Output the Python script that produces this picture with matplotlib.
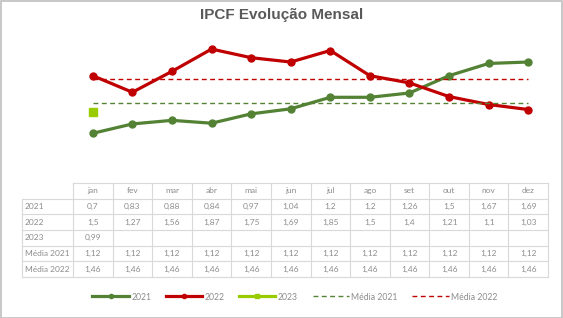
import matplotlib
matplotlib.use('Agg')
import matplotlib.pyplot as plt
from matplotlib.patches import Rectangle

months = ['jan', 'fev', 'mar', 'abr', 'mai', 'jun', 'jul', 'ago', 'set', 'out', 'nov', 'dez']
s2021 = [0.7, 0.83, 0.88, 0.84, 0.97, 1.04, 1.2, 1.2, 1.26, 1.5, 1.67, 1.69]
s2022 = [1.5, 1.27, 1.56, 1.87, 1.75, 1.69, 1.85, 1.5, 1.4, 1.21, 1.1, 1.03]
s2023 = [0.99]
media2021 = [1.12, 1.12, 1.12, 1.12, 1.12, 1.12, 1.12, 1.12, 1.12, 1.12, 1.12, 1.12]
media2022 = [1.46, 1.46, 1.46, 1.46, 1.46, 1.46, 1.46, 1.46, 1.46, 1.46, 1.46, 1.46]
row_labels = ['2021', '2022', '2023', 'Média 2021', 'Média 2022']
title = 'IPCF Evolução Mensal'

C21 = '#548235'
C22 = '#C00000'
C23 = '#99CC00'
GRAY = '#8c8c8c'
GRID = '#d9d9d9'

W, H = 563, 318
fig = plt.figure(figsize=(W / 100, H / 100), dpi=100)
fig.patch.set_facecolor('white')


def fx(px):
    return px / W


def fy(py):
    return 1 - py / H


# main plot axes
left_px, right_px = 73, 548
ax = fig.add_axes([fx(left_px), fy(154.9), fx(right_px) - fx(left_px), fy(32.5) - fy(154.9)])
ax.set_xlim(-0.5, len(months) - 0.5)
ax.set_ylim(0.4, 2.1)
ax.axis('off')
x = list(range(len(months)))
l1, = ax.plot(x, s2021, color=C21, lw=2.3, marker='o', ms=5, label='2021', zorder=3)
l2, = ax.plot(x, s2022, color=C22, lw=2.3, marker='o', ms=5, label='2022', zorder=3)
l3, = ax.plot(list(range(len(s2023))), s2023, color=C23, lw=2.3, marker='s', ms=5.5, label='2023', zorder=3)
l4, = ax.plot(x, media2021, color=C21, lw=1, ls=(0, (3.5, 2.5)), label='Média 2021', zorder=4)
l5, = ax.plot(x, media2022, color=C22, lw=1, ls=(0, (3.5, 2.5)), label='Média 2022', zorder=4)

# title
fig.text(fx(281.5), fy(15), title, ha='center', va='center', fontsize=11, fontweight='bold',
         color='#595959', family='Liberation Sans')

# data table overlay
tax = fig.add_axes([0, 0, 1, 1], facecolor='none')
tax.set_xlim(0, W)
tax.set_ylim(H, 0)
tax.axis('off')
top, row_h = 183, 15.67
label_left = 22
colw = (right_px - left_px) / len(months)
nrows = len(row_labels) + 1
bottom = top + nrows * row_h
lw = 0.8
# horizontal lines
tax.plot([left_px, right_px], [top, top], color=GRID, lw=lw)
for k in range(1, nrows + 1):
    y = top + k * row_h
    tax.plot([label_left, right_px], [y, y], color=GRID, lw=lw)
# vertical lines
tax.plot([label_left, label_left], [top + row_h, bottom], color=GRID, lw=lw)
for j in range(len(months) + 1):
    xx = left_px + j * colw
    tax.plot([xx, xx], [top, bottom], color=GRID, lw=lw)

tfont = dict(fontsize=6.0, color=GRAY, family='Lato', va='center')
for j, m in enumerate(months):
    tax.text(left_px + (j + 0.5) * colw, top + 0.5 * row_h, m, ha='center', **tfont)


def fmt(v):
    return ('%g' % v).replace('.', ',')


rows = [s2021, s2022, s2023, media2021, media2022]
for i, (lab, vals) in enumerate(zip(row_labels, rows)):
    yc = top + (i + 1.5) * row_h
    tax.text(label_left + 3, yc, lab, ha='left', **tfont)
    for j, v in enumerate(vals):
        tax.text(left_px + (j + 0.5) * colw, yc, fmt(v), ha='center', **tfont)

# legend
leg = fig.legend(handles=[l1, l2, l3, l4, l5], loc='center', bbox_to_anchor=(fx(295), fy(297)),
                 ncol=5, frameon=False, handlelength=4.2, handletextpad=0.3, columnspacing=1.7,
                 prop={'family': 'Lato', 'size': 6.2}, labelcolor=GRAY, markerscale=0.6)

# outer border
fig.patches.append(Rectangle((0.5 / W, 0.5 / H), 1 - 1.5 / W, 1 - 1.5 / H, transform=fig.transFigure,
                             fill=False, edgecolor='#bfbfbf', lw=1.2))

fig.savefig('out.png', dpi=100)
